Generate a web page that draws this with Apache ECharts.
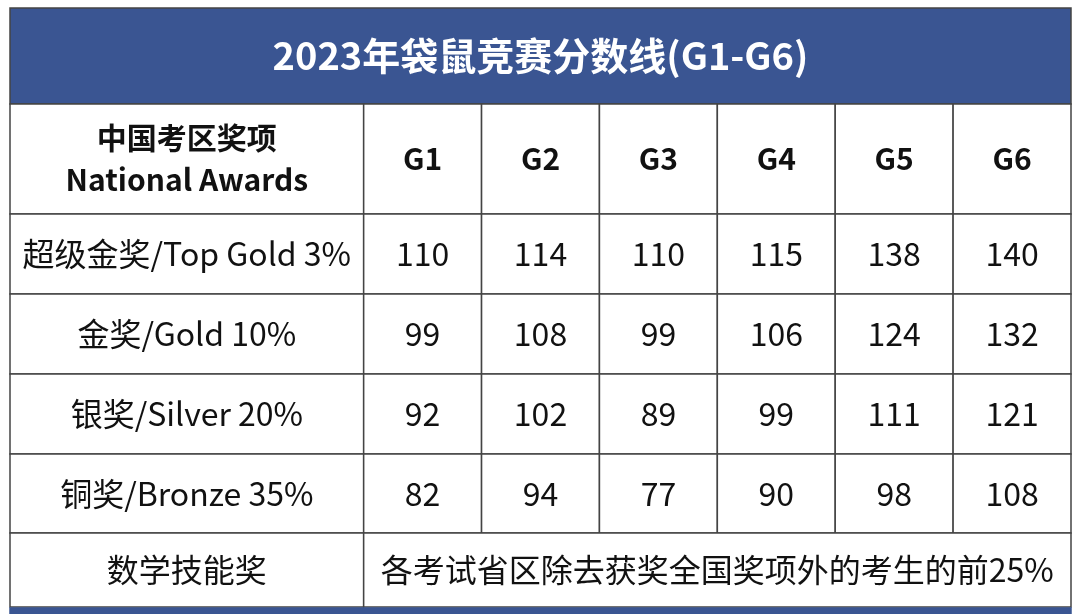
<!DOCTYPE html>
<html><head><meta charset="utf-8">
<script src="https://cdn.jsdelivr.net/npm/echarts@6/dist/echarts.min.js"></script>
<style>html,body{margin:0;padding:0;background:#fff}#c{width:1080px;height:614px}</style>
</head><body><div id="c"></div>
<script>
var title = '2023年袋鼠竞赛分数线(G1-G6)';
var headerLabel = '中国考区奖项\nNational Awards';
var grades = ['G1','G2','G3','G4','G5','G6'];
var awards = ['超级金奖/Top Gold 3%','金奖/Gold 10%','银奖/Silver 20%','铜奖/Bronze 35%'];
var topGold = [110,114,110,115,138,140];
var gold = [99,108,99,106,124,132];
var silver = [92,102,89,99,111,121];
var bronze = [82,94,77,90,98,108];
var skillLabel = '数学技能奖';
var skillText = '各考试省区除去获奖全国奖项外的考生的前25%';

var values = [topGold, gold, silver, bronze];
var rowEdges = [8,104,214,294,374,454,533,607,614];
var F = '"Noto Sans CJK SC","Noto Sans",sans-serif';
var cells = [];
cells.push([0,9,rowEdges[0],rowEdges[1],title,0]);
cells.push([0,3,rowEdges[1],rowEdges[2],headerLabel,1]);
grades.forEach(function(g,i){cells.push([3+i,4+i,rowEdges[1],rowEdges[2],g,1]);});
awards.forEach(function(a,r){
  cells.push([0,3,rowEdges[2+r],rowEdges[3+r],a,2]);
  values[r].forEach(function(v,i){cells.push([3+i,4+i,rowEdges[2+r],rowEdges[3+r],String(v),2]);});
});
cells.push([0,3,rowEdges[6],rowEdges[7],skillLabel,2]);
cells.push([3,9,rowEdges[6],rowEdges[7],skillText,2]);
cells.push([0,9,rowEdges[7]+1,rowEdges[8],'',3]);

var chart = echarts.init(document.getElementById('c'));
chart.setOption({
  animation:false,
  grid:{left:10,right:9,top:0,bottom:0},
  xAxis:{type:'value',min:0,max:9,show:false},
  yAxis:{type:'value',min:0,max:614,inverse:true,show:false},
  series:[{
    type:'custom',
    data:cells,
    encode:{x:[0,1],y:[2,3]},
    renderItem:function(params,api){
      var x0=api.value(0),x1=api.value(1),y0=api.value(2),y1=api.value(3),k=api.value(5);
      var p0=api.coord([x0,y0]),p1=api.coord([x1,y1]);
      var txt=cells[params.dataIndex][4];
      var fill=(k===0||k===3)?'#3a5592':'#ffffff';
      var tc=k===0?'#ffffff':'#111111';
      var fs=k===0?38:(k===1?30:32);
      var fw=(k===0||k===1)?'bold':'normal';
      return {type:'group',children:[
        {type:'rect',shape:{x:p0[0],y:p0[1],width:p1[0]-p0[0],height:p1[1]-p0[1]},
         style:{fill:fill,stroke:k===3?'#3a5592':'#444',lineWidth:1.5}},
        {type:'text',style:{text:txt,x:(p0[0]+p1[0])/2,y:(p0[1]+p1[1])/2,align:'center',verticalAlign:'middle',
          fill:tc,font:fw+' '+fs+'px '+F,lineHeight:fs*1.4}}
      ]};
    }
  }]
});
</script></body></html>
